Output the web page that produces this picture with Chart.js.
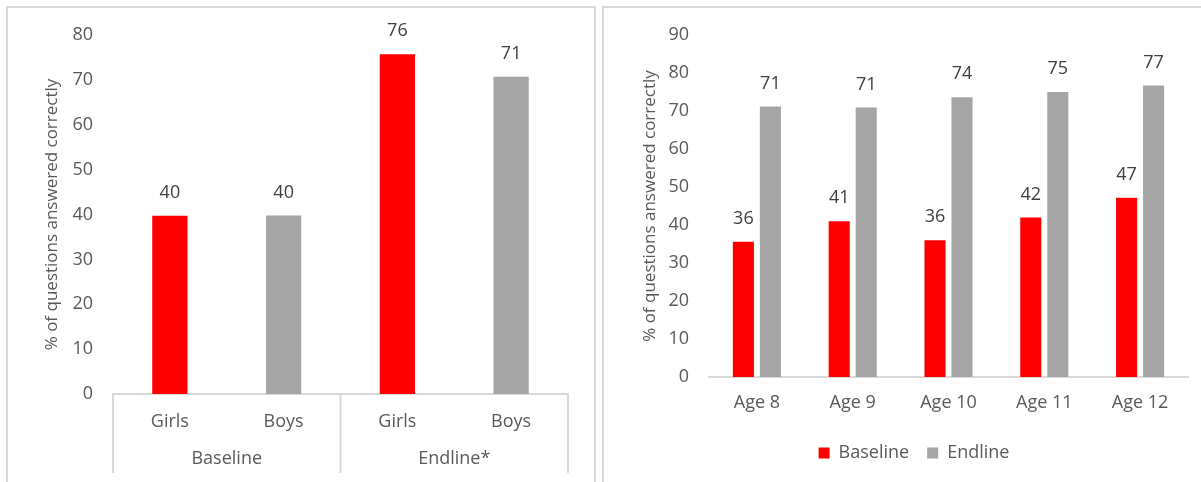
<!DOCTYPE html>
<html>
<head>
<meta charset="utf-8">
<script src="https://cdn.jsdelivr.net/npm/chart.js@4/dist/chart.umd.min.js"></script>
<style>
  body { margin: 0; background: #fff; width: 1201px; height: 482px; overflow: hidden; position: relative; }
  .panel { position: absolute; top: 6px; height: 480px; border-top: 2px solid #d9d9d9; border-left: 2px solid #d9d9d9; }
  #p1 { left: 6px; width: 586px; border-right: 2px solid #d9d9d9; }
  #p2 { left: 602px; width: 600px; }
  canvas { position: absolute; top: 0; }
  #gender-chart { left: 0; }
  #age-chart { left: 600px; }
</style>
</head>
<body>
<div class="panel" id="p1"></div>
<div class="panel" id="p2"></div>
<canvas id="gender-chart" width="600" height="482"></canvas>
<canvas id="age-chart" width="601" height="482"></canvas>
<script>
// Datos del gráfico por sexo
const genderLabels = ['Girls', 'Boys', 'Girls', 'Boys'];
const genderGroups = ['Baseline', 'Endline*'];
const genderValues = [39.7, 39.8, 75.7, 70.7];

// Datos del gráfico por edad
const ageLabels = ['Age 8', 'Age 9', 'Age 10', 'Age 11', 'Age 12'];
const baselineValues = [35.6, 41.0, 36.0, 42.0, 47.2];
const endlineValues = [71.2, 70.9, 73.6, 75.0, 76.7];

const RED = '#FF0000';
const GREY = '#A5A5A5';
const TEXT = '#595959';
const FONT = "'Open Sans', sans-serif";

Chart.defaults.font.family = FONT;
Chart.defaults.color = TEXT;
Chart.defaults.animation = false;
Chart.defaults.responsive = false;

// Etiquetas encima de cada barra
const barValueLabels = {
    id: 'barValueLabels',
    afterDatasetsDraw(chart) {
        const ctx = chart.ctx;
        ctx.save();
        ctx.font = '18px ' + FONT;
        ctx.fillStyle = '#404040';
        ctx.textAlign = 'center';
        ctx.textBaseline = 'middle';
        chart.data.datasets.forEach((ds, di) => {
            chart.getDatasetMeta(di).data.forEach((bar, i) => {
                ctx.fillText(Math.round(ds.data[i]), bar.x, bar.y - 23);
            });
        });
        ctx.restore();
    }
};

// Segunda fila del eje X (Baseline / Endline*) con separadores
const groupAxis = {
    id: 'groupAxis',
    afterDraw(chart) {
        const x = chart.scales.x;
        const ctx = chart.ctx;
        const mid = (x.getPixelForValue(1) + x.getPixelForValue(2)) / 2;
        const edges = [x.left, mid, x.right];
        ctx.save();
        ctx.strokeStyle = '#d9d9d9';
        ctx.lineWidth = 2;
        edges.forEach(px => {
            ctx.beginPath();
            ctx.moveTo(px, x.top);
            ctx.lineTo(px, 473);
            ctx.stroke();
        });
        ctx.font = '18px ' + FONT;
        ctx.fillStyle = TEXT;
        ctx.textAlign = 'center';
        ctx.textBaseline = 'middle';
        ctx.fillText(genderGroups[0], (x.left + mid) / 2, 459);
        ctx.fillText(genderGroups[1], (mid + x.right) / 2, 459);
        ctx.restore();
    }
};

function yTitle(pad) {
    return {
        display: true,
        text: '% of questions answered correctly',
        font: { size: 17 },
        color: TEXT,
        padding: { top: pad, bottom: 0 }
    };
}

new Chart(document.getElementById('gender-chart'), {
    type: 'bar',
    data: {
        labels: genderLabels,
        datasets: [{
            data: genderValues,
            backgroundColor: [RED, GREY, RED, GREY],
            barPercentage: 0.31,
            categoryPercentage: 1
        }]
    },
    options: {
        layout: { padding: { left: 0, right: 32, top: 35, bottom: 0 } },
        plugins: { legend: { display: false }, tooltip: { enabled: false } },
        scales: {
            y: {
                min: 0, max: 80,
                ticks: { stepSize: 10, padding: 20, font: { size: 18 } },
                grid: { display: false, drawTicks: false },
                border: { display: false },
                title: yTitle(42),
                afterFit: s => { s.width = 113; }
            },
            x: {
                ticks: { padding: 17, font: { size: 18 }, maxRotation: 0 },
                grid: { display: false, drawTicks: false },
                border: { color: '#d9d9d9', width: 2 },
                afterFit: s => { s.height = 88; }
            }
        }
    },
    plugins: [barValueLabels, groupAxis]
});

new Chart(document.getElementById('age-chart'), {
    type: 'bar',
    data: {
        labels: ageLabels,
        datasets: [
            { label: 'Baseline', data: baselineValues, backgroundColor: RED },
            { label: 'Endline', data: endlineValues, backgroundColor: GREY }
        ]
    },
    options: {
        datasets: { bar: { categoryPercentage: 0.564, barPercentage: 0.78 } },
        layout: { padding: { left: 40, right: 13, top: 35, bottom: 10 } },
        plugins: {
            legend: {
                position: 'bottom',
                labels: { boxWidth: 11, boxHeight: 11, padding: 18, font: { size: 18 }, color: TEXT }
            },
            tooltip: { enabled: false }
        },
        scales: {
            y: {
                min: 0, max: 90,
                ticks: { stepSize: 10, padding: 20, font: { size: 18 } },
                grid: { display: false, drawTicks: false },
                border: { display: false },
                title: yTitle(0),
                afterFit: s => { s.width = 69; }
            },
            x: {
                ticks: { padding: 15, font: { size: 18 }, maxRotation: 0 },
                grid: { display: false, drawTicks: false },
                border: { color: '#d9d9d9', width: 2 },
                afterFit: s => { s.height = 49; }
            }
        }
    },
    plugins: [barValueLabels]
});
</script>
</body>
</html>
